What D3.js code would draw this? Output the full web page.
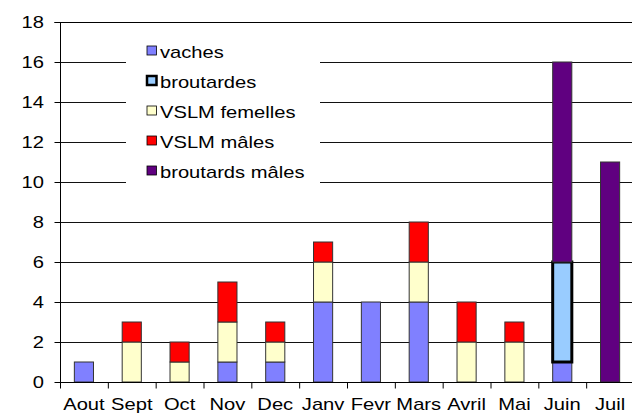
<!DOCTYPE html>
<html>
<head>
<meta charset="utf-8">
<script src="https://cdn.jsdelivr.net/npm/d3@7"></script>
<style>
  body { margin: 0; background: #fff; }
  text { font-family: "Liberation Sans", Arial, sans-serif; font-size: 16px; fill: #000; }
</style>
</head>
<body>
<div id="chart"></div>
<script>
// data
var months = ["Aout", "Sept", "Oct", "Nov", "Dec", "Janv", "Fevr", "Mars", "Avril", "Mai", "Juin", "Juil"];
var vaches          = [1, 0, 0, 1, 1, 4, 4, 4, 0, 0, 1, 0];
var broutardes      = [0, 0, 0, 0, 0, 0, 0, 0, 0, 0, 5, 0];
var vslmFemelles    = [0, 2, 1, 2, 1, 2, 0, 2, 2, 2, 0, 0];
var vslmMales       = [0, 1, 1, 2, 1, 1, 0, 2, 2, 1, 0, 0];
var broutardsMales  = [0, 0, 0, 0, 0, 0, 0, 0, 0, 0, 10, 11];
var yTicks = [0, 2, 4, 6, 8, 10, 12, 14, 16, 18];

var series = [
  {name: "vaches", values: vaches, color: "#8080ff", thick: false},
  {name: "broutardes", values: broutardes, color: "#99ccff", thick: true},
  {name: "VSLM femelles", values: vslmFemelles, color: "#ffffcc", thick: false},
  {name: "VSLM mâles", values: vslmMales, color: "#ff0000", thick: false},
  {name: "broutards mâles", values: broutardsMales, color: "#600080", thick: false}
];

var svgWidth = 632;
var svgHeight = 415;
var sx = 1.26; // text in the picture is stretched sideways

var svg = d3.select("#chart")
  .append("svg")
  .attr("width", svgWidth)
  .attr("height", svgHeight);

var plotLeft = 60, plotRight = 634, plotTop = 22, plotBottom = 382;

var xScale = d3.scaleBand()
  .domain(months)
  .range([plotLeft, plotRight])
  .paddingInner(0.6)
  .paddingOuter(0.3);

var xEdges = d3.scaleLinear().domain([0, months.length]).range([plotLeft, plotRight]);

var yScale = d3.scaleLinear()
  .domain([0, 18])
  .range([plotBottom, plotTop]);

// gridlines
svg.append("g")
  .selectAll("line")
  .data(yTicks.filter(d => d > 0))
  .enter()
  .append("line")
  .attr("x1", plotLeft)
  .attr("x2", svgWidth)
  .attr("y1", d => Math.round(yScale(d)) + 0.5)
  .attr("y2", d => Math.round(yScale(d)) + 0.5)
  .attr("stroke", "#111")
  .attr("stroke-width", 1);

// stacked bars
var table = months.map((m, i) => {
  var row = {month: m};
  series.forEach(s => { row[s.name] = s.values[i]; });
  return row;
});
var stack = d3.stack().keys(series.map(s => s.name));
var layers = stack(table);

layers.forEach((layer, k) => {
  var s = series[k];
  svg.append("g")
    .selectAll("rect")
    .data(layer.filter(d => d[1] - d[0] > 0))
    .enter()
    .append("rect")
    .attr("x", d => xScale(d.data.month))
    .attr("width", xScale.bandwidth())
    .attr("y", d => yScale(d[1]))
    .attr("height", d => yScale(d[0]) - yScale(d[1]))
    .attr("fill", s.color)
    .attr("stroke", s.thick ? "#000" : "#333")
    .attr("stroke-width", s.thick ? 3 : 1);
});

// legend (white box hides the gridlines)
var legend = svg.append("g");
legend.append("rect")
  .attr("x", 126).attr("y", 32)
  .attr("width", 194).attr("height", 172)
  .attr("fill", "#fff");

var items = legend.selectAll(".item")
  .data(series)
  .enter()
  .append("g")
  .attr("class", "item")
  .attr("transform", (d, i) => `translate(0, ${50.5 + i * 30})`);

items.append("rect")
  .attr("x", 147).attr("y", -4.5)
  .attr("width", 9.5).attr("height", 9)
  .attr("fill", d => d.color)
  .attr("stroke", "#000")
  .attr("stroke-width", d => d.thick ? 2.5 : 0.8);

items.append("text")
  .attr("transform", `translate(160, 7) scale(${sx}, 1)`)
  .text(d => d.name);

// y axis
var yAxis = svg.append("g")
  .attr("transform", `translate(${plotLeft + 0.5}, 0)`)
  .call(d3.axisLeft(yScale).tickValues(yTicks).tickSize(6).tickFormat(d3.format("d")));
yAxis.select(".domain").attr("stroke", "#000").attr("d", `M-6,${plotTop + 0.5}H0V${plotBottom + 0.5}`);
yAxis.selectAll(".tick line").attr("stroke", "#000");
yAxis.selectAll(".tick text")
  .attr("x", null).attr("dy", "0.36em")
  .attr("transform", `translate(-16.5, 0) scale(${sx}, 1)`);
yAxis.attr("font-size", null).attr("font-family", null);

// top border
svg.append("line")
  .attr("x1", plotLeft).attr("x2", svgWidth)
  .attr("y1", plotTop + 0.5).attr("y2", plotTop + 0.5)
  .attr("stroke", "#000");

// x axis: ticks between months, labels centred
var xAxis = svg.append("g")
  .attr("transform", `translate(0, ${plotBottom + 0.5})`)
  .call(d3.axisBottom(xEdges).tickValues(d3.range(0, months.length + 1)).tickSize(6).tickFormat(""));
xAxis.select(".domain").attr("stroke", "#000").attr("d", `M${plotLeft},0H${svgWidth}`);
xAxis.selectAll(".tick line").attr("stroke", "#000");

svg.append("g")
  .selectAll("text")
  .data(months)
  .enter()
  .append("text")
  .attr("text-anchor", "middle")
  .attr("transform", d => `translate(${xScale(d) + xScale.bandwidth() / 2}, 409.5) scale(${sx}, 1)`)
  .text(d => d);
</script>
</body>
</html>
